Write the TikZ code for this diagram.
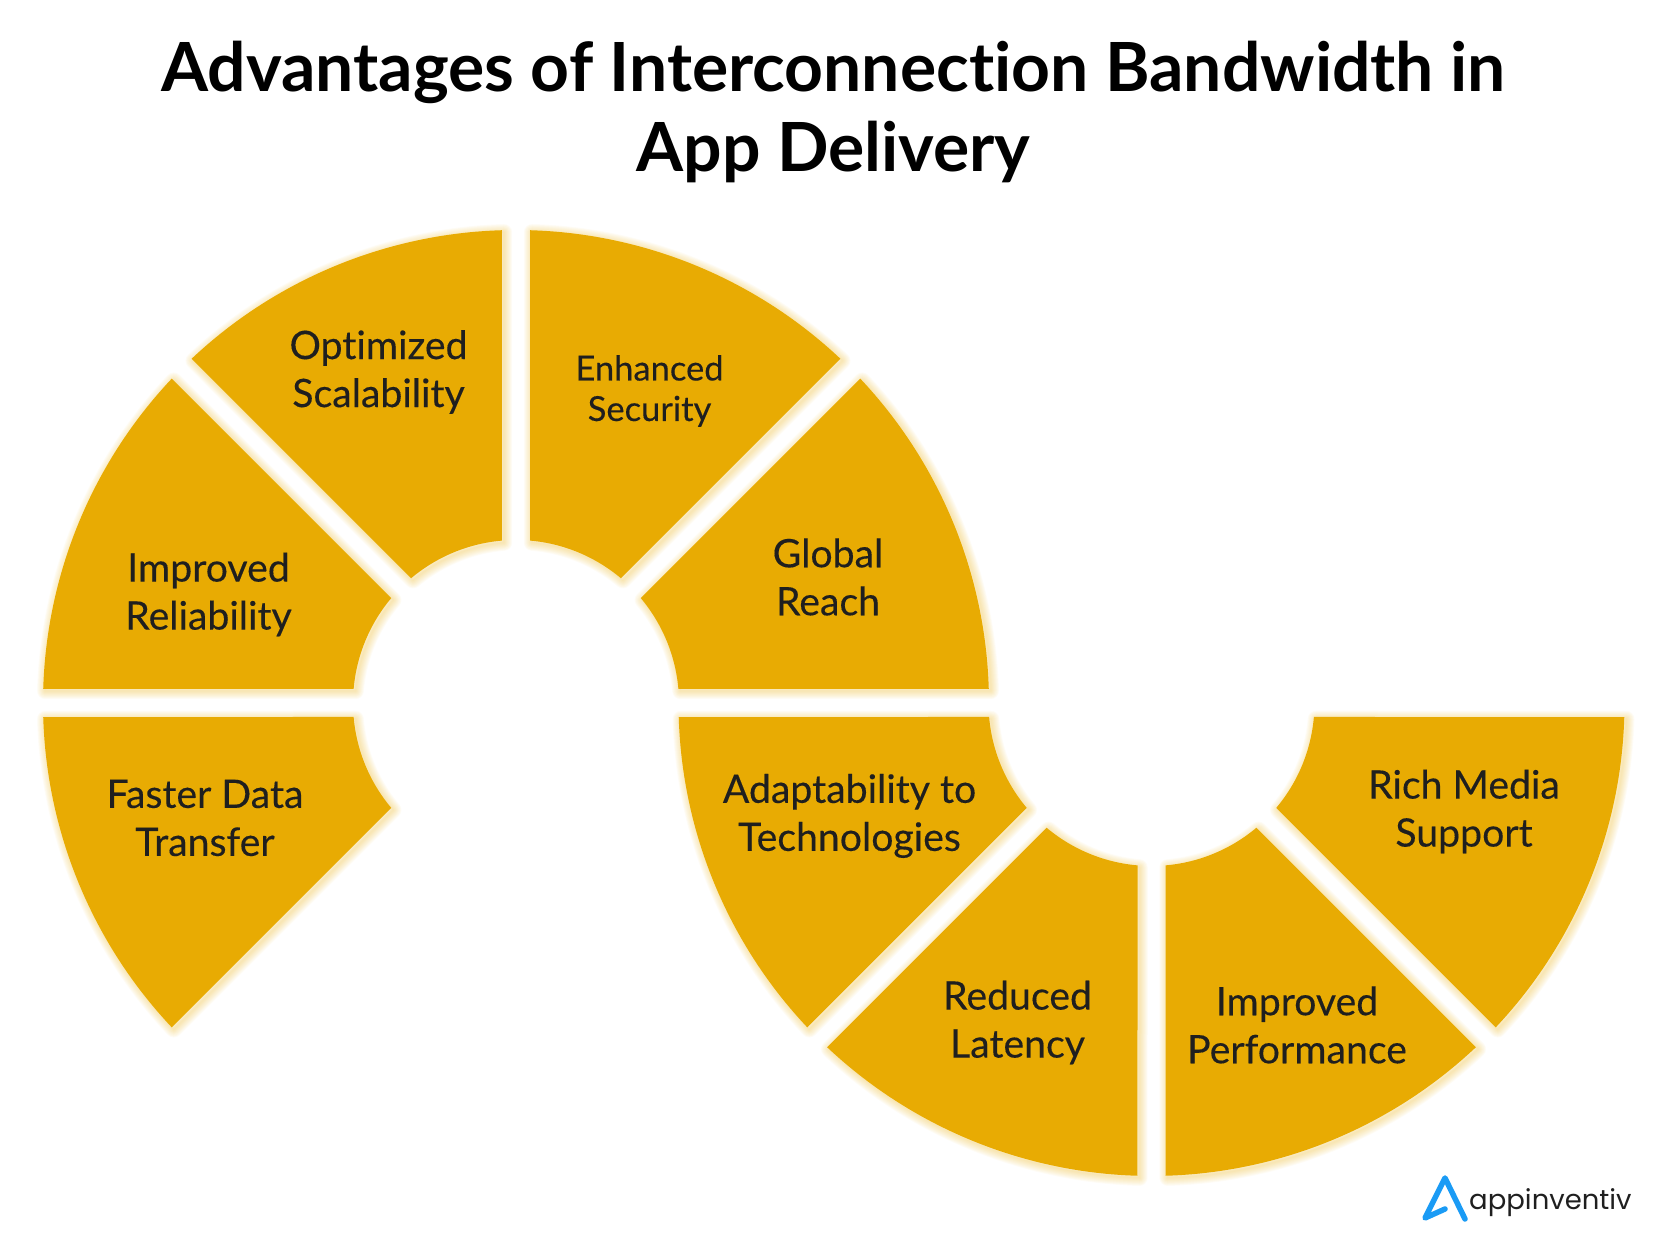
\documentclass[tikz,border=0pt]{standalone}
\usepackage{fontspec}
\setmainfont{Lato}[Ligatures=NoCommon]
\newfontfamily\bodyfont{Lato}[Ligatures=NoCommon,FakeBold=0.25]
\newfontfamily\logofont{Poppins}
\definecolor{gold}{HTML}{E8AB03}
\definecolor{ink}{HTML}{1F1F1F}
\definecolor{logoblue}{HTML}{1A9BF5}
\usetikzlibrary{calc}
\newcommand{\sectorshape}[3]{%
  (#1,#2) ++(#3+1.7:473) arc[start angle=#3+1.7,end angle=#3+43.3,radius=473]
  -- ($(#1,#2)+(#3+40.07:163)$) arc[start angle=#3+40.07,end angle=#3+4.93,radius=163] -- cycle}
\newcommand{\sectorglow}[3]{%
  \foreach \w in {1.5,3,...,16.5}{%
    \draw[glowline,line width=\w pt,shift={(2,-2)}] \sectorshape{#1}{#2}{#3};}}
\tikzset{
  glowline/.style={draw=gold,opacity=0.032,line join=round},
  sectorfill/.style={fill=gold,draw=none},
  label/.style={align=center,text=ink,font=\bodyfont\fontsize{39.2}{48}\selectfont,inner sep=0pt},
  smalllabel/.style={align=center,text=ink,font=\bodyfont\fontsize{34.5}{40.5}\selectfont,inner sep=0pt},
  heading/.style={align=center,text=black,font=\fontsize{67.8}{80}\selectfont\bfseries,inner sep=0pt},
  logomark/.style={draw=logoblue,line width=5.5pt,line cap=round,line join=round}
}
\begin{document}
\begin{tikzpicture}[x=1pt,y=1pt]
\useasboundingbox (0,0) rectangle (1667,1246);
\foreach \cx/\a in {516/45,516/90,516/135,516/0,516/180,1151.5/180,1151.5/225,1151.5/270,1151.5/315}{
  \sectorglow{\cx}{543}{\a}
}
\foreach \cx/\a in {516/45,516/90,516/135,516/0,516/180,1151.5/180,1151.5/225,1151.5/270,1151.5/315}{
  \fill[sectorfill] \sectorshape{\cx}{543}{\a};
}
\node[heading] (title) at (833.5,1133.5) {Advantages of Interconnection Bandwidth in\\App Delivery};
\node[label] (scal) at (378.5,874) {Optimized\\Scalability};
\node[smalllabel] (sec) at (649.5,855) {Enhanced\\Security};
\node[label] (rel) at (208.5,651.5) {Improved\\Reliability};
\node[label] (glob) at (828,669) {Global\\Reach};
\node[label] (fast) at (205,428) {Faster Data\\Transfer};
\node[label] (adap) at (849.5,430) {Adaptability to\\Technologies};
\node[label] (rich) at (1464,434.5) {Rich Media\\Support};
\node[label] (lat) at (1017.5,223.5) {Reduced\\Latency};
\node[label] (perf) at (1297,221) {Improved\\Performance};
\coordinate (apex) at (1445,68);
\coordinate (rfoot) at (1465,27);
\coordinate (lfoot) at (1425,28);
\coordinate (hook) at (1445,37);
\draw[logomark] (rfoot) -- (apex) -- (lfoot) -- (hook);
\node[anchor=base west,inner sep=0pt,text=ink,font=\logofont\fontsize{27.5}{36}\selectfont] (brand) at (1469,36) {appinventiv};
\end{tikzpicture}
\end{document}
